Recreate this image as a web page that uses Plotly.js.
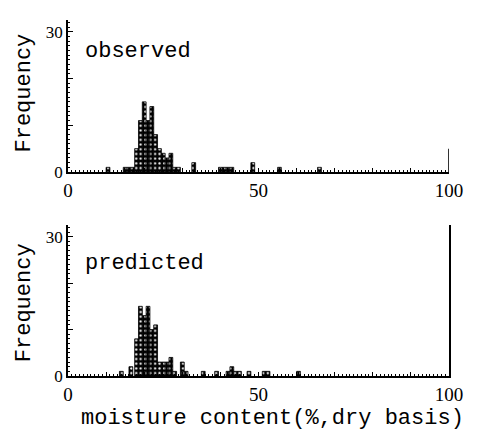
<!DOCTYPE html>
<html><head><meta charset="utf-8">
<script src="https://cdn.plot.ly/plotly-3.0.1.min.js"></script>
<style>html,body{margin:0;padding:0;background:#fff}</style>
</head><body>
<div id="chart" style="width:478px;height:440px"></div>
<script>
// observed histogram: bin centres (moisture %, dry basis) and frequencies
const obsX = [10.5, 15, 16, 17, 18, 19, 20, 21, 22, 23, 24, 25, 26, 27, 28, 29, 33, 40, 41, 42, 43, 48.5, 55.5, 66];
const obsY = [1, 1, 1, 1, 5, 11, 15, 11, 14, 8, 5, 4, 3, 4, 1, 1, 2, 1, 1, 1, 1, 2, 1, 1];
// predicted histogram
const predX = [14, 16.5, 18, 19, 20, 21, 22, 23, 24, 25, 26, 27, 28, 30, 31, 35.5, 39, 42, 43, 44, 45, 47.5, 51.5, 52.5, 60.5];
const predY = [1, 2, 8, 15, 13, 15, 10, 11, 3, 3, 3, 4, 1, 3, 1, 1, 1, 1, 2, 1, 1, 1, 1, 1, 1];
// ticks and texts
const xTickVals = [0, 10, 20, 30, 40, 50, 60, 70, 80, 90, 100];
const xTickText = ['0', '', '', '', '', '50', '', '', '', '', '100'];
const yTickVals = [0, 10, 20, 30];
const yTickText = ['0', '', '', '30'];
const panelLabels = ['observed', 'predicted'];
const yTitle = 'Frequency';
const xTitle = 'moisture content(%,dry basis)';

const mono = 'Liberation Mono, DejaVu Sans Mono, monospace';
const serif = 'Liberation Serif, DejaVu Serif, serif';

function barTrace(x, y, xa, ya) {
  return {
    type: 'bar', x: x, y: y, xaxis: xa, yaxis: ya, width: 1,
    marker: {
      color: 'black',
      line: {color: 'black', width: 0.8},
      pattern: {shape: '.', bgcolor: 'black', fgcolor: 'white', size: 4.7, solidity: 0.22}
    },
    hoverinfo: 'skip'
  };
}

function xAxis(anchor) {
  return {
    anchor: anchor, range: [0, 100], showgrid: false, zeroline: false,
    showline: true, linecolor: 'black', linewidth: 1.8,
    tickmode: 'array', tickvals: xTickVals, ticktext: xTickText,
    ticks: 'inside', ticklen: 4, tickwidth: 1, tickcolor: 'black',
    minor: {dtick: 1, ticks: 'inside', ticklen: 2, tickwidth: 1, tickcolor: 'black'},
    tickfont: {family: serif, size: 19, color: 'black'}
  };
}
function yAxis(anchor, domain, mirror) {
  return {
    anchor: anchor, domain: domain, range: [0, 32.5], showgrid: false, zeroline: false,
    showline: true, linecolor: 'black', linewidth: 1.8, mirror: mirror,
    tickmode: 'array', tickvals: yTickVals, ticktext: yTickText,
    ticks: 'inside', ticklen: 5, tickwidth: 1, tickcolor: 'black',
    minor: {dtick: 1, ticks: 'inside', ticklen: 2, tickwidth: 1, tickcolor: 'black'},
    tickfont: {family: serif, size: 17, color: 'black'}
  };
}

const data = [barTrace(obsX, obsY, 'x', 'y'), barTrace(predX, predY, 'x2', 'y2')];

const layout = {
  width: 478, height: 440, showlegend: false,
  margin: {l: 68, r: 29, t: 20, b: 64},
  paper_bgcolor: 'white', plot_bgcolor: 'white',
  bargap: 0,
  xaxis: xAxis('y'),
  yaxis: yAxis('x', [0.573, 1], false),
  xaxis2: xAxis('y2'),
  yaxis2: yAxis('x2', [0, 0.424], true),
  shapes: [
    {type: 'line', xref: 'x', yref: 'y', x0: 100, x1: 100, y0: 0, y1: 5, line: {color: 'black', width: 1.6}}
  ],
  annotations: [
    {text: panelLabels[0], xref: 'x', yref: 'y', x: 3.9, y: 25.7, xanchor: 'left', yanchor: 'middle', showarrow: false,
     font: {family: mono, size: 22, color: 'black'}},
    {text: panelLabels[1], xref: 'x2', yref: 'y2', x: 3.9, y: 24.3, xanchor: 'left', yanchor: 'middle', showarrow: false,
     font: {family: mono, size: 22, color: 'black'}},
    {text: yTitle, xref: 'paper', yref: 'paper', x: -0.115, y: 0.794, xanchor: 'center', yanchor: 'middle', textangle: -90, showarrow: false,
     font: {family: mono, size: 22, color: 'black'}},
    {text: yTitle, xref: 'paper', yref: 'paper', x: -0.115, y: 0.205, xanchor: 'center', yanchor: 'middle', textangle: -90, showarrow: false,
     font: {family: mono, size: 22, color: 'black'}},
    {text: xTitle, xref: 'paper', yref: 'paper', x: 0.538, y: -0.118, xanchor: 'center', yanchor: 'middle', showarrow: false,
     font: {family: mono, size: 22, color: 'black'}}
  ]
};

Plotly.newPlot('chart', data, layout, {displayModeBar: false, staticPlot: true});
</script>
</body></html>
